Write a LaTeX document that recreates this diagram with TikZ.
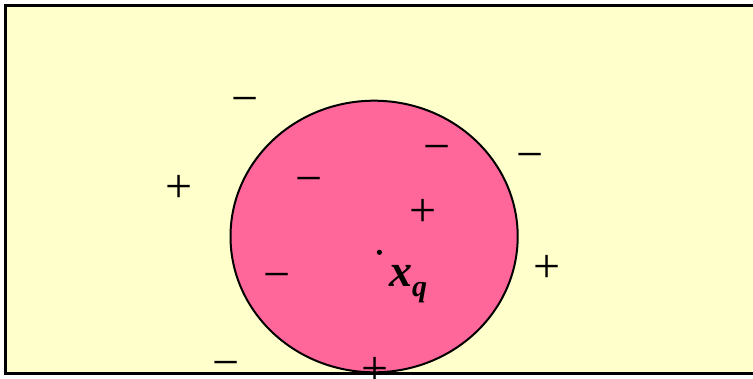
\documentclass[tikz,border=0pt]{standalone}
\usepackage{fontspec}
\setmainfont{Liberation Serif}
\definecolor{bgyellow}{HTML}{FFFFCC}
\definecolor{rosepink}{HTML}{FF6699}
\tikzset{
  sign/.style={anchor=base, inner sep=0pt, font=\fontsize{48}{48}\selectfont},
}
\begin{document}
\begin{tikzpicture}[x=1pt,y=-1pt]
\useasboundingbox (0,0) rectangle (753,378);
\clip (0,0) rectangle (753,378);
\fill[white] (0,0) rectangle (753,378);
\draw[line width=2.4pt, fill=bgyellow] (5.5,5.3) rectangle (770,373.5);
\draw[line width=2pt, fill=rosepink] (374.1,236.5) ellipse [x radius=143.6, y radius=135.8];
% signs
\node[sign] (m1) at (245,114.6) {−};
\node[sign] (p1) at (179,202) {+};
\node[sign] (m2) at (308.8,194.4) {−};
\node[sign] (m3) at (437,162.8) {−};
\node[sign] (m4) at (529.8,170.4) {−};
\node[sign] (p2) at (422.7,226.1) {+};
\node[sign] (p3) at (547,282.1) {+};
\node[sign] (m5) at (277,290.4) {−};
\node[sign] (m6) at (225.7,378.4) {−};
\node[sign] (p4) at (374.6,384.4) {+};
% query point
\fill (379.4,252.3) circle (2.6pt);
\node[anchor=base west, inner sep=0pt, font=\fontsize{46}{46}\selectfont\bfseries\itshape] (xq) at (389,286)
  {x\raisebox{-10.6pt}{\fontsize{30}{30}\selectfont q}};
\end{tikzpicture}
\end{document}
